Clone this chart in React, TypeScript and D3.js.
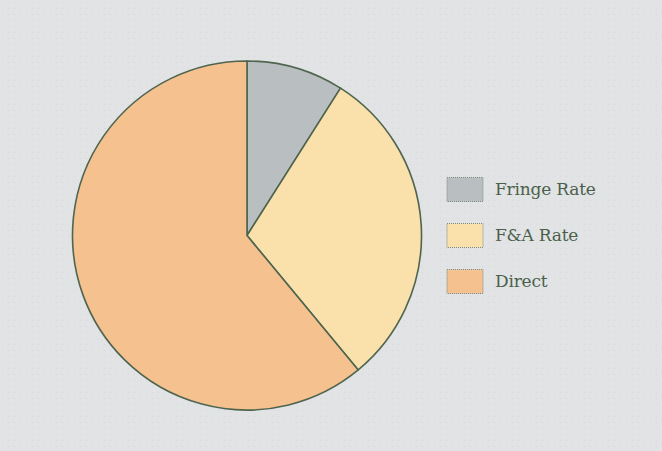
import React, { useRef, useEffect } from 'react';
import * as d3 from 'd3';

const categories = ['Fringe Rate', 'F&A Rate', 'Direct'];
const values = [9, 30, 61];
const colors = ['#b9bec0', '#fae1ab', '#f5c18f'];

export default function App() {
  const svgRef = useRef<SVGSVGElement>(null);

  useEffect(() => {
    const width = 662;
    const height = 451;
    const svg = d3.select(svgRef.current);
    svg.selectAll('*').remove();
    svg.attr('width', width).attr('height', height);

    // 背景の細かいドット
    const defs = svg.append('defs');
    const pat = defs.append('pattern')
      .attr('id', 'dots')
      .attr('width', 6)
      .attr('height', 6)
      .attr('patternUnits', 'userSpaceOnUse');
    pat.append('rect').attr('width', 6).attr('height', 6).attr('fill', '#e1e3e5');
    pat.append('rect').attr('x', 2).attr('y', 2).attr('width', 1).attr('height', 1).attr('fill', '#d6d9db');

    svg.append('rect').attr('width', width).attr('height', height).attr('fill', 'url(#dots)');

    const cx = 247;
    const cy = 235.5;
    const r = 174.5;

    const pie = d3.pie<number>().sort(null).value(d => d);
    const arc = d3.arc<d3.PieArcDatum<number>>().innerRadius(0).outerRadius(r);

    const g = svg.append('g').attr('transform', `translate(${cx},${cy})`);
    g.selectAll('path')
      .data(pie(values))
      .join('path')
      .attr('d', arc)
      .attr('fill', (_, i) => colors[i])
      .attr('stroke', '#4f654f')
      .attr('stroke-width', 1.6)
      .attr('stroke-linejoin', 'round');

    // 凡例
    const legendY = d3.scalePoint<string>()
      .domain(categories)
      .range([189.5, 281.5]);

    const legend = svg.append('g');
    const item = legend.selectAll('g')
      .data(categories)
      .join('g')
      .attr('transform', d => `translate(447,${legendY(d)})`);

    item.append('rect')
      .attr('x', 0)
      .attr('y', -12)
      .attr('width', 36)
      .attr('height', 24)
      .attr('fill', (_, i) => colors[i])
      .attr('stroke', '#7d8a7d')
      .attr('stroke-width', 1)
      .attr('stroke-dasharray', '1 1');

    item.append('text')
      .attr('x', 48)
      .attr('y', 0)
      .attr('dy', '0.34em')
      .attr('fill', '#4c5f4c')
      .attr('font-family', '"DejaVu Serif", "Liberation Serif", serif')
      .attr('font-size', 17)
      .attr('letter-spacing', -0.2)
      .text(d => d);
  }, []);

  return (
    <div style={{ position: 'absolute', left: 0, top: 0 }}>
      <svg ref={svgRef} style={{ display: 'block' }}></svg>
    </div>
  );
}
